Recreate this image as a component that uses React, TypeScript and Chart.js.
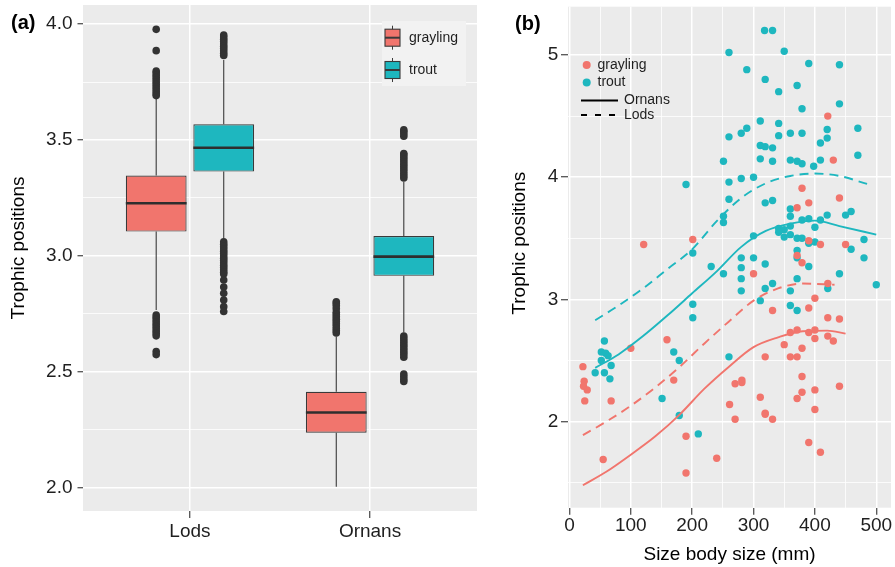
import React, { useEffect, useRef } from 'react';
import { Chart, registerables } from 'chart.js';

Chart.register(...registerables);

const FONT = "'Liberation Sans', Arial, Helvetica, sans-serif";
const RED = '#F1756D';
const TEAL = '#1EB7BF';
const PANEL = '#EBEBEB';
const TEXT = '#1f1f1f';
const TICK = '#333333';

// ---------------- panel (a): boxplots ----------------
const SITES = ['Lods', 'Ornans'];
const SPECIES = ['grayling', 'trout'];

const GRAYLING_Q1 = [3.105, 2.237];
const GRAYLING_MEDIAN = [3.227, 2.324];
const GRAYLING_Q3 = [3.347, 2.414];
const GRAYLING_LOW = [2.767, 2.004];
const GRAYLING_HIGH = [3.681, 2.652];

const TROUT_Q1 = [3.364, 2.914];
const TROUT_MEDIAN = [3.467, 2.997];
const TROUT_Q3 = [3.568, 3.086];
const TROUT_LOW = [3.076, 2.669];
const TROUT_HIGH = [3.846, 3.32];

const GRAYLING_LODS_OUT = [3.978, 3.886, 3.798, 3.79, 3.78, 3.77, 3.76, 3.75, 3.74, 3.73, 3.72, 3.71, 3.7, 3.692,
  2.745, 2.735, 2.725, 2.715, 2.705, 2.695, 2.685, 2.675, 2.665, 2.655, 2.587, 2.574];
const GRAYLING_ORNANS_OUT = [2.802, 2.795, 2.785, 2.772, 2.757, 2.747, 2.737, 2.727, 2.717, 2.707, 2.697, 2.687, 2.677, 2.667];
const TROUT_LODS_OUT = [3.953, 3.945, 3.935, 3.925, 3.915, 3.905, 3.895, 3.885, 3.875, 3.865,
  3.061, 3.05, 3.04, 3.03, 3.02, 3.01, 3.0, 2.99, 2.98, 2.97, 2.96, 2.95, 2.94, 2.93, 2.922,
  2.896, 2.866, 2.839, 2.81, 2.781, 2.76];
const TROUT_ORNANS_OUT = [3.544, 3.537, 3.527, 3.517, 3.442, 3.436, 3.426, 3.416, 3.406, 3.396, 3.386, 3.376,
  3.366, 3.356, 3.346, 3.336, 2.654, 2.644, 2.634, 2.624, 2.614, 2.604, 2.594, 2.584, 2.574, 2.563,
  2.49, 2.479, 2.468, 2.458];

const A_Y_TICKS = [2, 2.25, 2.5, 2.75, 3, 3.25, 3.5, 3.75, 4];

// ---------------- panel (b): scatter + smooth fits ----------------
const GRAYLING_SIZE = [421, 430, 379, 390, 371, 440, 121, 201, 390, 409, 450, 371, 379, 300, 421,
  22, 24, 23, 29, 25, 68, 100, 159, 170, 55, 190, 190, 240, 270, 281, 281, 261, 270, 311, 319, 319, 331,
  319, 331, 350, 360, 360, 371, 371, 379, 379, 379, 371, 390, 400, 390, 400, 400, 400, 400, 390, 409,
  421, 421, 430, 440, 440];
const GRAYLING_TP = [4.5, 4.14, 3.91, 3.79, 3.75, 3.83, 3.45, 3.49, 3.48, 3.45, 3.45, 3.36, 3.3, 3.21, 3.13,
  2.45, 2.33, 2.29, 2.26, 2.17, 2.17, 2.6, 2.67, 2.34, 1.69, 1.88, 1.58, 1.7, 2.31, 2.34, 2.32, 2.14, 2.02, 2.2, 2.07, 2.06, 2.02,
  2.53, 2.91, 2.63, 2.73, 2.53, 2.75, 2.53, 2.6, 2.37, 2.24, 2.19, 2.93, 3.01, 2.73, 2.75, 2.68, 2.26, 2.1, 1.83, 1.75,
  2.85, 2.7, 2.66, 2.84, 2.29];

const TROUT_SIZE = [318, 331, 260, 350, 390, 440, 289, 319, 371, 341, 379, 440, 311, 289, 280, 260, 341, 341, 360, 379,
  420, 420, 409, 470, 311, 319, 331, 251, 311, 331, 360, 371, 379, 398, 409, 470, 190, 260, 280, 300, 260, 319, 331,
  251, 251, 360, 360, 379, 390, 409, 420, 450, 459, 400, 341, 350, 341, 350, 360, 360, 300, 480, 371, 379, 390, 400,
  459, 201, 480, 280, 300, 371, 371, 319, 231, 280, 390, 251, 440, 280, 371, 331, 319, 500, 280, 360, 421, 311, 360,
  371, 201, 201, 57, 52, 59, 63, 52, 68, 42, 57, 66, 170, 179, 260, 151, 179, 210];
const TROUT_TP = [5.2, 5.2, 5.02, 5.03, 4.93, 4.92, 4.88, 4.8, 4.75, 4.7, 4.56, 4.6, 4.46, 4.4, 4.36, 4.33, 4.44, 4.34, 4.36, 4.36,
  4.39, 4.32, 4.28, 4.4, 4.26, 4.25, 4.24, 4.13, 4.15, 4.13, 4.14, 4.13, 4.11, 4.09, 4.14, 4.18, 3.94, 3.96, 3.99, 4.0, 3.82, 3.79, 3.81,
  3.68, 3.63, 3.74, 3.68, 3.65, 3.66, 3.65, 3.69, 3.69, 3.72, 3.59, 3.58, 3.57, 3.55, 3.51, 3.53, 3.6, 3.52, 3.49, 3.5, 3.5, 3.46, 3.47,
  3.41, 3.38, 3.34, 3.34, 3.34, 3.4, 3.34, 3.29, 3.27, 3.26, 3.27, 3.21, 3.21, 3.17, 3.17, 3.13, 3.09, 3.12, 3.07, 3.07, 3.09, 2.99, 2.95,
  2.91, 2.96, 2.85, 2.66, 2.57, 2.56, 2.54, 2.5, 2.46, 2.4, 2.4, 2.35, 2.57, 2.5, 2.53, 2.19, 2.05, 1.9];

const TROUT_ORNANS_FIT_X = [42, 80, 120, 160, 200, 240, 280, 320, 360, 400, 440, 500];
const TROUT_ORNANS_FIT_Y = [2.44, 2.55, 2.7, 2.87, 3.05, 3.23, 3.43, 3.56, 3.62, 3.645, 3.6, 3.53];
const TROUT_LODS_FIT_X = [42, 80, 120, 160, 200, 240, 280, 320, 360, 400, 440, 485];
const TROUT_LODS_FIT_Y = [2.83, 2.95, 3.09, 3.25, 3.41, 3.64, 3.83, 3.95, 4.01, 4.03, 4.01, 3.945];
const GRAYLING_ORNANS_FIT_X = [22, 60, 100, 140, 180, 220, 260, 300, 340, 380, 420, 450];
const GRAYLING_ORNANS_FIT_Y = [1.48, 1.59, 1.73, 1.88, 2.06, 2.27, 2.45, 2.61, 2.69, 2.74, 2.745, 2.72];
const GRAYLING_LODS_FIT_X = [22, 60, 100, 140, 180, 220, 260, 300, 340, 380, 432];
const GRAYLING_LODS_FIT_Y = [1.89, 2.0, 2.13, 2.28, 2.45, 2.64, 2.82, 2.99, 3.09, 3.13, 3.12];

const B_X_TICKS = [0, 50, 100, 150, 200, 250, 300, 350, 400, 450, 500];
const B_Y_TICKS = [1.5, 2, 2.5, 3, 3.5, 4, 4.5, 5];

// ---------------- helpers ----------------
const DODGE = 0.1875;
const zip = (xs: number[], ys: number[]) => xs.map((x, i) => ({ x, y: ys[i] }));

const noPad = (s: any) => {
  s.paddingTop = 0;
  s.paddingBottom = 0;
  s.paddingLeft = 0;
  s.paddingRight = 0;
};

const panelBg = {
  id: 'panelBg',
  beforeDraw(chart: any) {
    const { ctx, chartArea: a } = chart;
    ctx.save();
    ctx.fillStyle = PANEL;
    ctx.fillRect(a.left, a.top, a.right - a.left, a.bottom - a.top);
    ctx.restore();
  },
};

const yTitle = (text: string, x: number, dy: number) => ({
  id: 'yTitleCustom',
  afterDraw(chart: any) {
    const { ctx, chartArea: a } = chart;
    ctx.save();
    ctx.translate(x, (a.top + a.bottom) / 2 + dy);
    ctx.rotate(-Math.PI / 2);
    ctx.font = `19px ${FONT}`;
    ctx.fillStyle = '#000';
    ctx.textAlign = 'center';
    ctx.textBaseline = 'alphabetic';
    ctx.fillText(text, 0, 0);
    ctx.restore();
  },
});

const BOX_STATS = [
  { median: GRAYLING_MEDIAN, q1: GRAYLING_Q1, q3: GRAYLING_Q3, low: GRAYLING_LOW, high: GRAYLING_HIGH },
  { median: TROUT_MEDIAN, q1: TROUT_Q1, q3: TROUT_Q3, low: TROUT_LOW, high: TROUT_HIGH },
];

const boxExtras = {
  id: 'boxExtras',
  beforeDatasetsDraw(chart: any) {
    const { ctx } = chart;
    const y = chart.scales.y;
    ctx.save();
    ctx.strokeStyle = '#3a3a3a';
    ctx.lineWidth = 1.1;
    BOX_STATS.forEach((s, di) => {
      chart.getDatasetMeta(di).data.forEach((bar: any, i: number) => {
        const { x } = bar.getProps(['x'], true);
        ctx.beginPath();
        ctx.moveTo(x, y.getPixelForValue(s.high[i]));
        ctx.lineTo(x, y.getPixelForValue(s.q3[i]));
        ctx.moveTo(x, y.getPixelForValue(s.q1[i]));
        ctx.lineTo(x, y.getPixelForValue(s.low[i]));
        ctx.stroke();
      });
    });
    ctx.restore();
  },
  afterDatasetsDraw(chart: any) {
    const { ctx } = chart;
    const y = chart.scales.y;
    ctx.save();
    ctx.strokeStyle = '#2e2e2e';
    ctx.lineWidth = 2.6;
    BOX_STATS.forEach((s, di) => {
      chart.getDatasetMeta(di).data.forEach((bar: any, i: number) => {
        const { x, width } = bar.getProps(['x', 'width'], true);
        const py = y.getPixelForValue(s.median[i]);
        ctx.beginPath();
        ctx.moveTo(x - width / 2, py);
        ctx.lineTo(x + width / 2, py);
        ctx.stroke();
      });
    });
    ctx.restore();
  },
};

const legendA = {
  id: 'legendA',
  afterDraw(chart: any) {
    const { ctx } = chart;
    ctx.save();
    ctx.fillStyle = '#F2F2F2';
    ctx.fillRect(382, 21, 84, 65);
    const entries = [
      { label: SPECIES[0], color: RED, cy: 37.7 },
      { label: SPECIES[1], color: TEAL, cy: 70 },
    ];
    entries.forEach((e) => {
      ctx.strokeStyle = '#3a3a3a';
      ctx.lineWidth = 1;
      ctx.beginPath();
      ctx.moveTo(392.5, e.cy - 12);
      ctx.lineTo(392.5, e.cy + 12);
      ctx.stroke();
      ctx.fillStyle = e.color;
      ctx.fillRect(385, e.cy - 8.5, 15, 17);
      ctx.lineWidth = 1.1;
      ctx.strokeRect(385, e.cy - 8.5, 15, 17);
      ctx.lineWidth = 2;
      ctx.beginPath();
      ctx.moveTo(385, e.cy);
      ctx.lineTo(400, e.cy);
      ctx.stroke();
      ctx.fillStyle = TEXT;
      ctx.font = `14px ${FONT}`;
      ctx.textBaseline = 'middle';
      ctx.textAlign = 'left';
      ctx.fillText(e.label, 409, e.cy + 0.5);
    });
    ctx.restore();
  },
};

const legendB = {
  id: 'legendB',
  afterDraw(chart: any) {
    const { ctx } = chart;
    ctx.save();
    ctx.font = `14px ${FONT}`;
    ctx.textBaseline = 'middle';
    ctx.textAlign = 'left';
    const dots = [
      { label: SPECIES[0], color: RED, cy: 65 },
      { label: SPECIES[1], color: TEAL, cy: 82.5 },
    ];
    dots.forEach((d) => {
      ctx.fillStyle = d.color;
      ctx.beginPath();
      ctx.arc(86.7, d.cy, 4, 0, Math.PI * 2);
      ctx.fill();
      ctx.fillStyle = TEXT;
      ctx.fillText(d.label, 97.5, d.cy);
    });
    const lines = [
      { label: SITES[1], dash: [] as number[], cy: 100.5 },
      { label: SITES[0], dash: [6, 8], cy: 115 },
    ];
    lines.forEach((l) => {
      ctx.strokeStyle = '#000';
      ctx.lineWidth = 2;
      ctx.setLineDash(l.dash);
      ctx.beginPath();
      ctx.moveTo(81, l.cy);
      ctx.lineTo(118, l.cy);
      ctx.stroke();
      ctx.setLineDash([]);
      ctx.fillStyle = TEXT;
      ctx.fillText(l.label, 124, l.cy);
    });
    ctx.restore();
  },
};

const tickFont = { family: FONT, size: 19 };

function makeChartA(canvas: HTMLCanvasElement) {
  const outliers = (vals: number[], site: number, sp: number) =>
    vals.map((v) => ({ x: site + 1 + (sp === 0 ? -DODGE : DODGE), y: v }));
  const outStyle = { type: 'scatter' as const, backgroundColor: '#333333', borderWidth: 0, pointRadius: 3.8 };
  return new Chart(canvas, {
    type: 'bar',
    data: {
      datasets: [
        {
          label: SPECIES[0],
          data: SITES.map((_, i) => ({ x: i + 1, y: [GRAYLING_Q1[i], GRAYLING_Q3[i]] })) as any,
          backgroundColor: RED,
          borderColor: '#3a3a3a',
          borderWidth: 1.2,
          borderSkipped: false,
          categoryPercentage: 0.75,
          barPercentage: 0.9,
        },
        {
          label: SPECIES[1],
          data: SITES.map((_, i) => ({ x: i + 1, y: [TROUT_Q1[i], TROUT_Q3[i]] })) as any,
          backgroundColor: TEAL,
          borderColor: '#3a3a3a',
          borderWidth: 1.2,
          borderSkipped: false,
          categoryPercentage: 0.75,
          barPercentage: 0.9,
        },
        { ...outStyle, label: 'grayling Lods outliers', data: outliers(GRAYLING_LODS_OUT, 0, 0) } as any,
        { ...outStyle, label: 'grayling Ornans outliers', data: outliers(GRAYLING_ORNANS_OUT, 1, 0) } as any,
        { ...outStyle, label: 'trout Lods outliers', data: outliers(TROUT_LODS_OUT, 0, 1) } as any,
        { ...outStyle, label: 'trout Ornans outliers', data: outliers(TROUT_ORNANS_OUT, 1, 1) } as any,
      ],
    },
    options: {
      responsive: false,
      animation: false,
      events: [],
      layout: { padding: { left: 0, top: 5, right: 23, bottom: 0 } },
      plugins: { legend: { display: false }, tooltip: { enabled: false } },
      scales: {
        x: {
          type: 'linear',
          min: 0.406,
          max: 2.594,
          offset: false,
          afterBuildTicks: (s: any) => {
            s.ticks = SITES.map((_, i) => ({ value: i + 1 }));
          },
          afterFit: (s: any) => {
            s.height = 56;
            noPad(s);
          },
          ticks: {
            autoSkip: false,
            maxRotation: 0,
            padding: 2.6,
            color: TEXT,
            font: tickFont,
            callback: (v: any) => SITES[Math.round(Number(v)) - 1] ?? '',
          },
          grid: { color: '#ffffff', lineWidth: 1.5, offset: false, tickColor: TICK, tickLength: 7, tickWidth: 1.1 },
          border: { display: false },
        },
        y: {
          type: 'linear',
          min: 1.899,
          max: 4.083,
          afterBuildTicks: (s: any) => {
            s.ticks = A_Y_TICKS.map((v) => ({ value: v }));
          },
          afterFit: (s: any) => {
            s.width = 83;
            noPad(s);
          },
          ticks: {
            autoSkip: false,
            padding: 5,
            color: TEXT,
            font: tickFont,
            callback: (v: any) => (Number.isInteger(Number(v) * 2) ? Number(v).toFixed(1) : ''),
          },
          grid: {
            color: '#ffffff',
            lineWidth: (c: any) => (c.tick && Number.isInteger(c.tick.value * 2) ? 1.5 : 0.8),
            tickColor: (c: any) => (c.tick && Number.isInteger(c.tick.value * 2) ? TICK : 'rgba(0,0,0,0)'),
            tickLength: 5.5,
            tickWidth: 1.1,
          },
          border: { display: false },
        },
      },
    } as any,
    plugins: [panelBg, boxExtras, legendA, yTitle('Trophic positions', 23.6, -10)],
  });
}

function makeChartB(canvas: HTMLCanvasElement) {
  const fit = (xs: number[], ys: number[], color: string, dashed: boolean, label: string) => ({
    type: 'line' as const,
    label,
    data: zip(xs, ys),
    borderColor: color,
    borderWidth: 1.9,
    borderDash: dashed ? [9, 6] : [],
    pointRadius: 0,
    fill: false,
    cubicInterpolationMode: 'monotone' as const,
    order: 0,
  });
  return new Chart(canvas, {
    type: 'scatter',
    data: {
      datasets: [
        fit(TROUT_ORNANS_FIT_X, TROUT_ORNANS_FIT_Y, TEAL, false, 'trout Ornans'),
        fit(TROUT_LODS_FIT_X, TROUT_LODS_FIT_Y, TEAL, true, 'trout Lods'),
        fit(GRAYLING_ORNANS_FIT_X, GRAYLING_ORNANS_FIT_Y, RED, false, 'grayling Ornans'),
        fit(GRAYLING_LODS_FIT_X, GRAYLING_LODS_FIT_Y, RED, true, 'grayling Lods'),
        {
          type: 'scatter',
          label: SPECIES[1],
          data: zip(TROUT_SIZE, TROUT_TP),
          backgroundColor: TEAL,
          borderWidth: 0,
          pointRadius: 3.7,
          order: 2,
        },
        {
          type: 'scatter',
          label: SPECIES[0],
          data: zip(GRAYLING_SIZE, GRAYLING_TP),
          backgroundColor: RED,
          borderWidth: 0,
          pointRadius: 3.7,
          order: 1,
        },
      ] as any,
    },
    options: {
      responsive: false,
      animation: false,
      events: [],
      layout: { padding: { left: 0, top: 6.7, right: 2.6, bottom: 0 } },
      plugins: { legend: { display: false }, tooltip: { enabled: false } },
      scales: {
        x: {
          type: 'linear',
          min: -2.3,
          max: 524,
          afterBuildTicks: (s: any) => {
            s.ticks = B_X_TICKS.map((v) => ({ value: v }));
          },
          afterFit: (s: any) => {
            s.height = 59.3;
            noPad(s);
          },
          ticks: {
            autoSkip: false,
            maxRotation: 0,
            padding: 0,
            color: TEXT,
            font: tickFont,
            callback: (v: any) => (Number(v) % 100 === 0 ? String(v) : ''),
          },
          grid: {
            color: '#ffffff',
            lineWidth: (c: any) => (c.tick && c.tick.value % 100 === 0 ? 1.5 : 0.8),
            tickColor: (c: any) => (c.tick && c.tick.value % 100 === 0 ? TICK : 'rgba(0,0,0,0)'),
            tickLength: 7,
            tickWidth: 1.1,
          },
          border: { display: false },
          title: {
            display: true,
            text: 'Size body size (mm)',
            color: '#000',
            font: { family: FONT, size: 19 },
            padding: { top: 0, bottom: 1 },
          },
        },
        y: {
          type: 'linear',
          min: 1.296,
          max: 5.395,
          afterBuildTicks: (s: any) => {
            s.ticks = B_Y_TICKS.map((v) => ({ value: v }));
          },
          afterFit: (s: any) => {
            s.width = 68;
            noPad(s);
          },
          ticks: {
            autoSkip: false,
            padding: 2.7,
            color: TEXT,
            font: tickFont,
            callback: (v: any) => (Number.isInteger(Number(v)) ? String(v) : ''),
          },
          grid: {
            color: '#ffffff',
            lineWidth: (c: any) => (c.tick && Number.isInteger(c.tick.value) ? 1.5 : 0.8),
            tickColor: (c: any) => (c.tick && Number.isInteger(c.tick.value) ? TICK : 'rgba(0,0,0,0)'),
            tickLength: 7,
            tickWidth: 1.1,
          },
          border: { display: false },
        },
      },
    } as any,
    plugins: [panelBg, legendB, yTitle('Trophic positions', 25, -14)],
  });
}

export default function App() {
  const refA = useRef<HTMLCanvasElement>(null);
  const refB = useRef<HTMLCanvasElement>(null);

  useEffect(() => {
    const a = makeChartA(refA.current!);
    const b = makeChartB(refB.current!);
    return () => {
      a.destroy();
      b.destroy();
    };
  }, []);

  const label: React.CSSProperties = {
    position: 'absolute',
    fontFamily: FONT,
    fontWeight: 'bold',
    fontSize: 20,
    lineHeight: '20px',
    color: '#000',
    whiteSpace: 'nowrap',
  };

  return (
    <div style={{ position: 'fixed', left: 0, top: 0, width: 895, height: 567, background: '#ffffff', overflow: 'hidden' }}>
      <canvas ref={refA} width={500} height={567} style={{ position: 'absolute', left: 0, top: 0, display: 'block' }} />
      <canvas ref={refB} width={395} height={567} style={{ position: 'absolute', left: 500, top: 0, display: 'block' }} />
      <div style={{ ...label, left: 11, top: 12 }}>(a)</div>
      <div style={{ ...label, left: 515, top: 13 }}>(b)</div>
    </div>
  );
}
